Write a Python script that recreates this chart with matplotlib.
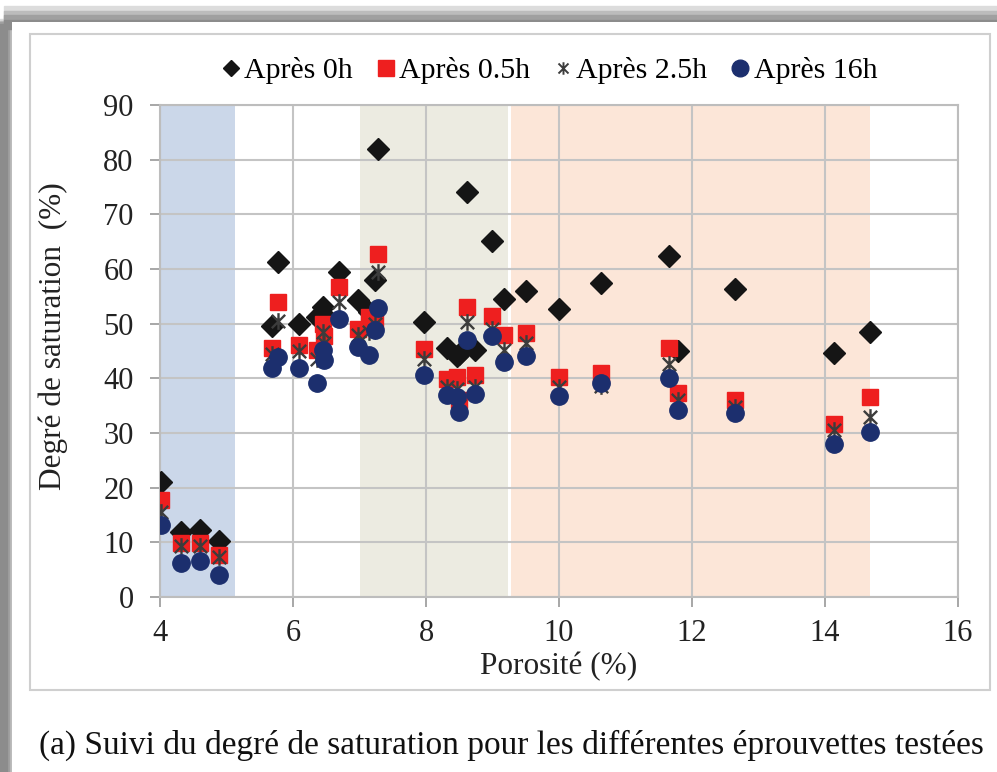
import matplotlib
matplotlib.use('Agg')
import matplotlib.pyplot as plt
from matplotlib.patches import Rectangle
from matplotlib.path import Path
from matplotlib.lines import Line2D

plt.rcParams['font.family'] = ['Liberation Serif', 'DejaVu Serif']

# porosité de chaque éprouvette (%)
porosite = [4.02, 4.31, 4.60, 4.88, 5.68, 5.78, 6.09, 6.36, 6.45, 6.47, 6.69,
            6.98, 7.15, 7.23, 7.28, 7.97, 8.31, 8.46, 8.49, 8.61, 8.74, 8.99,
            9.18, 9.51, 10.0, 10.63, 11.66, 11.79, 12.65, 14.14, 14.68]

# degré de saturation (%) après chaque durée
apres_0h = [21.0, 11.8, 12.2, 10.2, 49.6, 61.3, 50.0, 51.2, 53.0, 51.5, 59.5,
            54.3, 52.2, 58.0, 82.0, 50.3, 45.6, 44.0, 44.5, 74.1, 45.2, 65.1,
            54.5, 56.0, 52.6, 57.5, 62.4, 45.0, 56.4, 44.7, 48.5]
apres_05h = [17.7, 9.8, 9.8, 7.7, 45.6, 54.0, 46.1, 45.2, 50.0, 47.8, 56.7,
             49.1, 51.2, 50.5, 62.8, 45.3, 39.8, 40.2, 36.0, 53.1, 40.6, 51.4,
             47.9, 48.3, 40.3, 40.9, 45.6, 37.4, 36.0, 31.7, 36.6]
apres_25h = [15.5, 9.4, 9.4, 7.3, 44.5, 50.5, 45.0, 43.5, 48.5, 46.5, 54.0,
             48.0, 48.5, 50.0, 59.5, 43.5, 38.5, 38.0, 35.0, 50.3, 38.5, 49.0,
             45.2, 46.5, 38.5, 38.6, 42.7, 36.0, 34.8, 30.5, 33.0]
apres_16h = [13.2, 6.2, 6.6, 4.0, 41.8, 43.9, 41.8, 39.1, 45.2, 43.3, 50.9,
             45.8, 44.2, 48.8, 52.8, 40.6, 36.9, 36.6, 33.9, 47.0, 37.2, 47.8,
             43.0, 44.1, 36.8, 39.1, 40.0, 34.2, 33.6, 27.9, 30.2]

noms = ['Après 0h', 'Après 0.5h', 'Après 2.5h', 'Après 16h']

# zones de porosité
zones = [(4.0, 5.13, '#cbd7e9'), (7.0, 9.24, '#ecebe1'), (9.28, 14.68, '#fce6d8')]

# marqueur "étoile" façon Excel (x + trait vertical)
etoile = Path([(-1, -1), (1, 1), (-1, 1), (1, -1), (0, -1.25), (0, 1.25)],
              [Path.MOVETO, Path.LINETO, Path.MOVETO, Path.LINETO,
               Path.MOVETO, Path.LINETO])

fig = plt.figure(figsize=(9.97, 7.72), dpi=100)

# ombre du cadre + cadre intérieur
for i, c in enumerate(['#dcdcdc', '#bcbcbc', '#a0a0a0', '#8c8c8c']):
    fig.patches.append(Rectangle((0.0, 0.0), 0.013 - 0.002 * i, 0.975 - 0.002 * i,
                                 transform=fig.transFigure, color=c, zorder=0))
    fig.patches.append(Rectangle((0.004, 0.975 - 0.004 * i), 0.996, 0.017 - 0.002 * i,
                                 transform=fig.transFigure, color=c, zorder=0))
fig.patches.append(Rectangle((0.012, 0.0), 0.988, 0.972, transform=fig.transFigure,
                             facecolor='white', edgecolor='none', zorder=0.5))
fig.patches.append(Rectangle((30 / 997, 1 - 690 / 772), 960 / 997, 656 / 772,
                             transform=fig.transFigure, facecolor='white',
                             edgecolor='#cfcfcf', lw=1.5, zorder=0.6))

ax = fig.add_axes([160 / 997, 1 - 597 / 772, 798 / 997, 492 / 772])
ax.set_zorder(2)

for x0, x1, c in zones:
    ax.axvspan(x0, x1, color=c, zorder=0, lw=0)

ax.plot(porosite, apres_0h, linestyle='none', marker='D', markersize=11.5,
        color='#151515', zorder=3)
ax.plot(porosite, apres_05h, linestyle='none', marker='s', markersize=12,
        color='#ee1f1f', zorder=4)
ax.plot(porosite, apres_25h, linestyle='none', marker=etoile, markersize=12,
        markerfacecolor='none', markeredgecolor='#3c3c3c', markeredgewidth=1.7, zorder=5)
ax.plot(porosite, apres_16h, linestyle='none', marker='o', markersize=12.5,
        color='#1c2f6e', zorder=6)

ax.set_xlim(4, 16)
ax.set_ylim(0, 90)
ax.set_xticks(range(4, 17, 2))
ax.set_yticks(range(0, 91, 10))
ax.grid(True, color='#c4c4c4', lw=1.5, zorder=0.5)
ax.set_axisbelow(True)
for s in ax.spines.values():
    s.set_color('#bdbdbd')
    s.set_linewidth(1.5)
ax.tick_params(axis='both', direction='out', length=7, width=1.3, color='#a0a0a0',
               labelsize=22, labelcolor='#222222')
ax.tick_params(axis='y', pad=12)
ax.tick_params(axis='x', pad=9)

ax.set_ylabel('Degré de saturation  (%)', fontsize=22.5, color='#222222')
ax.yaxis.set_label_coords(-0.115, 0.53)
ax.set_xlabel('Porosité (%)', fontsize=22.5, color='#222222')
ax.xaxis.set_label_coords(0.5, -0.112)

handles = [
    Line2D([], [], linestyle='none', marker='D', markersize=8, color='#151515'),
    Line2D([], [], linestyle='none', marker='s', markersize=12, color='#ee1f1f'),
    Line2D([], [], linestyle='none', marker=etoile, markersize=9, markerfacecolor='none',
           markeredgecolor='#3c3c3c', markeredgewidth=1.4),
    Line2D([], [], linestyle='none', marker='o', markersize=12, color='#1c2f6e'),
]
ax.legend(handles, noms, loc='center', bbox_to_anchor=(0.488, 1.07), ncol=4,
          frameon=False, fontsize=21.5, handlelength=0.6, handletextpad=0.15,
          columnspacing=0.8, borderaxespad=0)

fig.text(0.513, 1 - 745 / 772,
         '(a) Suivi du degré de saturation pour les différentes éprouvettes testées',
         ha='center', va='center', fontsize=24, color='#111111')

plt.savefig('out.png', dpi=100)
